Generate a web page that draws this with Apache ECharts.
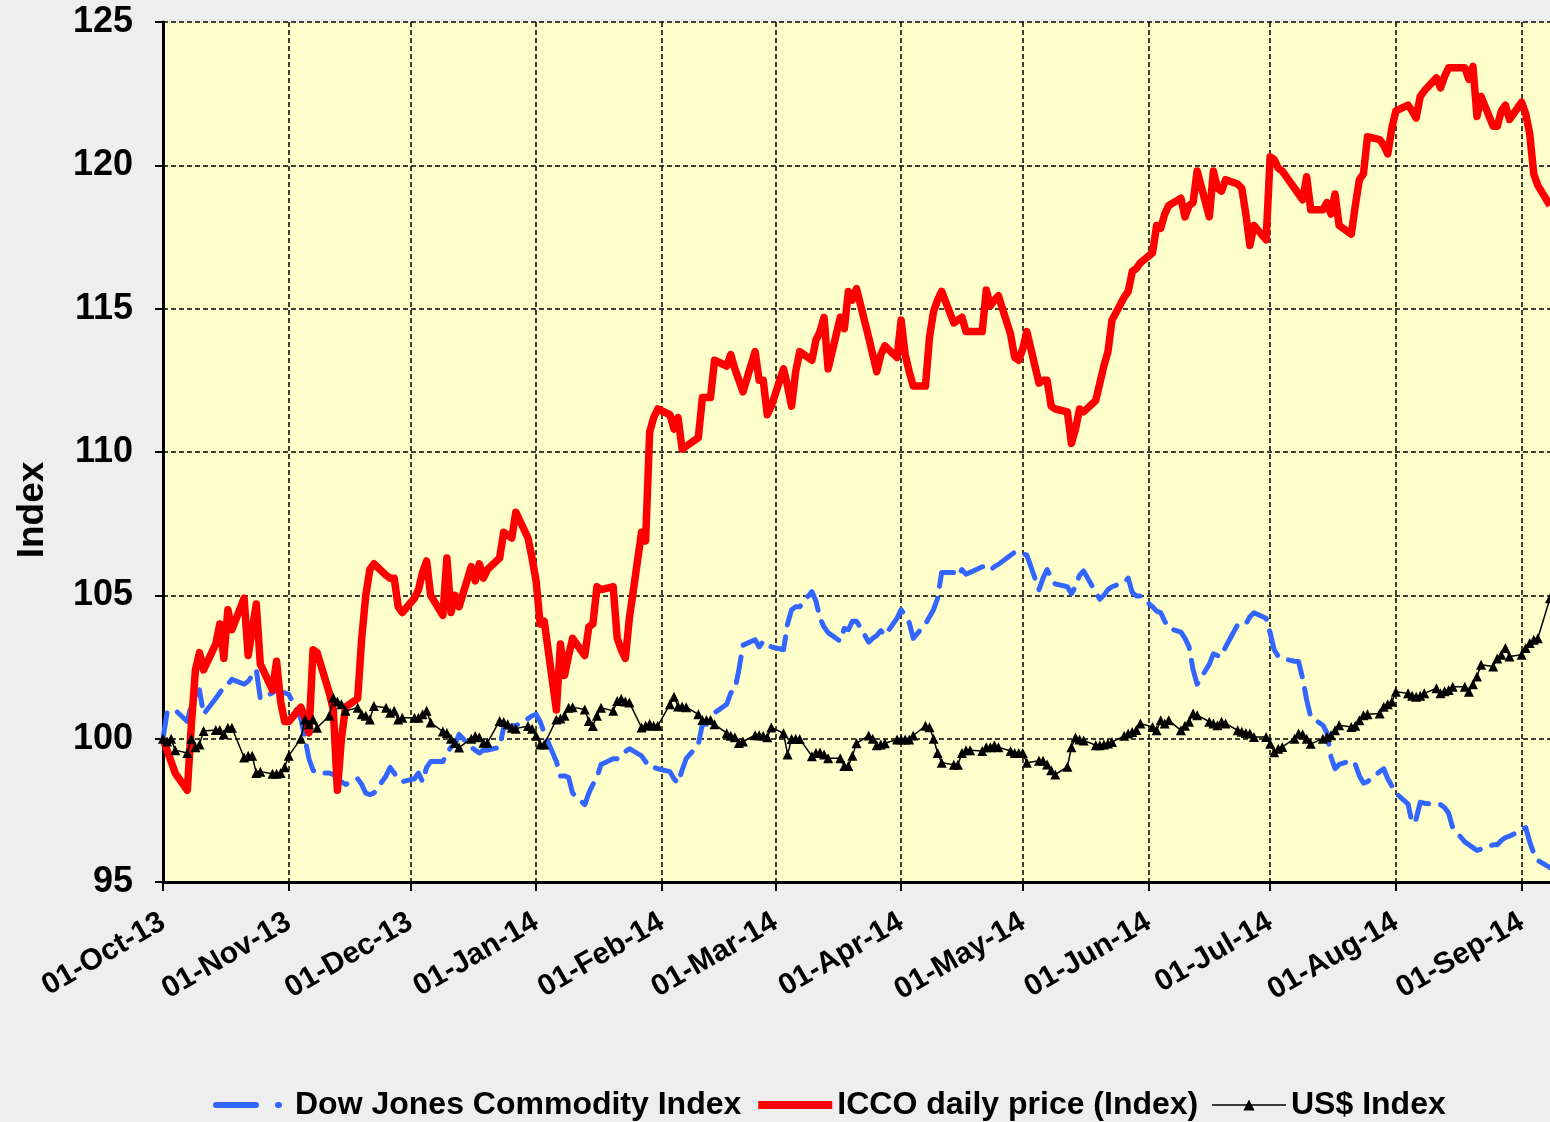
<!DOCTYPE html>
<html>
<head>
<meta charset="utf-8">
<title>ICCO daily price vs Dow Jones Commodity Index and US$ Index</title>
<script src="https://cdn.jsdelivr.net/npm/echarts@6/dist/echarts.min.js"></script>
<style>
  html, body { margin: 0; padding: 0; background: #eeeeee; }
  #chart { width: 1550px; height: 1122px; }
</style>
</head>
<body>
<div id="chart"></div>
<script>
// tick labels on the date axis (first day of each month)
const monthLabels = ['01-Oct-13', '01-Nov-13', '01-Dec-13', '01-Jan-14', '01-Feb-14', '01-Mar-14',
  '01-Apr-14', '01-May-14', '01-Jun-14', '01-Jul-14', '01-Aug-14', '01-Sep-14'];

// one value per trading day (Mon-Fri), 01-Oct-13 .. 08-Sep-14
const dowJones = [
  // Oct
  100.0, 100.9, 100.9, 101.0, 100.6, 101.2, 101.5, 101.7, 100.85, 101.4, 101.6, 101.8, 101.9, 102.07, 101.9, 102.0, 102.2, 102.4, 101.4, 101.6, 101.7, 101.6, 101.6,
  // Nov
  101.55, 100.7, 100.0, 99.3, 98.9, 98.8, 98.8, 98.75, 98.6, 98.5, 98.4, 98.6, 98.4, 98.1, 98.05, 98.1, 98.7, 99.0, 98.8, 98.6, 98.5,
  // Dec
  98.6, 98.8, 98.5, 99.0, 99.2, 99.2, 99.5, 99.7, 99.8, 100.15, 99.7, 99.6, 99.5, 99.6, 99.6, 99.7, 100.4, 100.4, 100.45, 100.45, 100.7, 100.8,
  // Jan
  100.85, 100.6, 100.2, 99.2, 98.7, 98.7, 98.65, 98.1, 97.7, 98.1, 98.4, 98.65, 99.1, 99.3, 99.3, 99.4, 99.55, 99.65, 99.4, 99.2, 99.0, 99.0, 98.95,
  // Feb
  98.85, 98.6, 98.45, 98.9, 99.3, 99.8, 100.5, 100.5, 100.7, 100.9, 101.2, 101.6, 101.7, 102.4, 103.26, 103.45, 103.2, 103.4, 103.3, 103.2,
  // Mar
  103.1, 104.0, 104.5, 104.6, 104.6, 105.13, 104.8, 104.2, 103.9, 103.7, 103.4, 103.85, 103.8, 104.1, 104.1, 103.37, 103.5, 103.6, 103.77, 103.6, 104.2,
  // Apr
  104.5, 104.3, 104.05, 103.5, 104.0, 104.25, 104.5, 104.9, 105.8, 105.8, 105.67, 105.9, 105.74, 105.8, 106.0, 106.0, 105.88, 106.0, 106.08, 106.4, 106.5, 106.45,
  // May
  106.45, 106.4, 105.2, 105.6, 105.9, 105.6, 105.4, 105.3, 105.06, 105.3, 105.7, 105.85, 105.1, 104.86, 105.0, 105.2, 105.3, 105.45, 105.6, 105.1, 104.98, 104.98,
  // Jun
  104.6, 104.45, 104.4, 104.1, 103.85, 103.72, 103.5, 103.2, 102.4, 101.9, 102.6, 102.96, 102.9, 102.87, 103.2, 103.98, 104.0, 104.0, 104.25, 104.39, 104.2,
  // Jul
  103.69, 103.1, 102.87, 102.8, 102.7, 102.69, 102.11, 101.35, 100.76, 100.47, 100.2, 99.36, 98.95, 99.1, 99.24, 99.1, 98.7, 98.45, 98.5, 98.85, 98.95, 98.6, 98.35,
  // Aug
  98.1, 97.72, 97.05, 97.2, 97.78, 97.75, 97.7, 97.7, 97.6, 97.4, 96.9, 96.4, 96.3, 96.2, 96.1, 96.15, 96.3, 96.3, 96.45, 96.55, 96.6,
  // Sep
  96.8, 96.9, 96.4, 96.0, 95.75, 95.5
];

const iccoPrice = [
  // Oct
  100.0, 99.6, 99.2, 98.8, 98.2, 100.5, 102.4, 103.0, 102.4, 103.3, 104.0, 102.8, 104.5, 103.8, 104.9, 102.9, 103.8, 104.7, 102.6, 101.7, 102.7, 101.3, 100.6,
  // Nov
  100.6, 101.1, 100.7, 100.2, 103.1, 103.0, 101.6, 101.0, 98.2, 100.0, 101.1, 101.4, 103.5, 105.0, 105.9, 106.1, 105.7, 105.6, 105.6, 104.6, 104.4,
  // Dec
  104.9, 105.2, 105.8, 106.2, 105.0, 104.3, 106.3, 104.4, 105.0, 104.6, 106.0, 105.5, 106.1, 105.6, 105.9, 106.3, 107.2, 107.1, 107.0, 107.9, 107.0, 106.3,
  // Jan
  105.5, 104.0, 104.1, 101.0, 103.3, 102.2, 102.9, 103.5, 102.9, 103.9, 104.0, 105.3, 105.2, 105.3, 103.5, 103.1, 102.8, 104.2, 107.2, 106.9, 110.7, 111.2, 111.5,
  // Feb
  111.3, 110.8, 111.2, 110.1, 110.2, 110.5, 111.9, 111.9, 111.9, 113.2, 113.0, 113.4, 112.9, 112.5, 112.1, 113.5, 112.5, 112.5, 111.3, 111.6,
  // Mar
  112.9, 112.3, 111.6, 112.8, 113.5, 113.2, 113.9, 114.2, 114.7, 112.9, 114.7, 114.3, 115.6, 115.3, 115.7, 114.0, 113.4, 112.8, 113.4, 113.7, 113.3,
  // Apr
  114.6, 113.4, 112.8, 112.3, 112.3, 114.0, 114.9, 115.3, 115.6, 114.5, 114.6, 114.7, 114.2, 114.2, 114.2, 115.65, 115.1, 115.3, 115.45, 114.1, 113.3, 113.2,
  // May
  113.6, 114.2, 112.4, 112.5, 112.5, 111.6, 111.5, 111.4, 110.3, 110.8, 111.5, 111.4, 111.8, 112.4, 113.0, 113.5, 114.6, 115.4, 115.6, 116.3, 116.4, 116.6,
  // Jun
  116.95, 117.9, 117.8, 118.3, 118.6, 118.85, 118.2, 118.6, 118.7, 119.8, 118.2, 119.8, 119.2, 119.1, 119.5, 119.35, 119.2, 118.3, 117.2, 117.9, 117.4,
  // Jul
  120.3, 120.2, 119.9, 119.8, 119.2, 119.0, 118.8, 119.6, 118.45, 118.45, 118.7, 118.3, 119.0, 117.9, 117.6, 118.6, 119.5, 119.7, 121.0, 120.9, 120.7, 120.4, 121.3,
  // Aug
  121.9, 122.1, 121.9, 121.65, 122.4, 122.6, 123.05, 122.7, 123.1, 123.4, 123.4, 123.4, 123.0, 123.45, 121.7, 122.4, 121.36, 121.36, 121.9, 122.1, 121.6,
  // Sep
  122.2, 121.8, 121.1, 119.7, 119.3, 118.6
];

const usdIndex = [
  // Oct
  100.0, 99.9, 100.0, 99.6, 99.5, 100.0, 99.7, 99.8, 100.27, 100.3, 100.3, 100.15, 100.38, 100.38, 99.34, 99.4, 99.4, 98.8, 98.85, 98.78, 98.78, 98.8, 99.0,
  // Nov
  99.4, 100.0, 100.67, 100.5, 100.67, 100.38, 100.8, 101.43, 101.3, 101.2, 100.97, 101.08, 100.85, 100.8, 100.67, 101.14, 101.08, 100.9, 100.97, 100.67, 100.73,
  // Dec
  100.73, 100.73, 100.85, 100.97, 100.56, 100.25, 100.2, 100.0, 99.85, 99.69, 100.0, 100.09, 100.05, 99.86, 99.86, 100.62, 100.58, 100.5, 100.38, 100.35, 100.44, 100.35,
  // Jan
  100.1, 99.8, 99.8, 100.67, 100.7, 100.8, 101.08, 101.1, 101.02, 100.62, 100.44, 100.8, 101.08, 100.97, 101.31, 101.39, 101.3, 101.26, 100.39, 100.45, 100.52, 100.45, 100.45,
  // Feb
  101.2, 101.46, 101.12, 101.12, 101.1, 100.85, 100.65, 100.65, 100.65, 100.5, 100.19, 100.1, 100.05, 99.85, 99.9, 100.12, 100.12, 100.1, 100.05, 100.39,
  // Mar
  100.19, 99.45, 99.99, 100.0, 99.99, 99.39, 99.5, 99.52, 99.45, 99.32, 99.32, 99.05, 99.05, 99.4, 99.84, 100.11, 100.0, 99.77, 99.8, 99.84, 99.97,
  // Apr
  99.97, 99.97, 99.97, 100.11, 100.45, 100.4, 100.0, 99.5, 99.16, 99.09, 99.09, 99.5, 99.6, 99.6, 99.57, 99.7, 99.7, 99.77, 99.7, 99.57, 99.5, 99.5,
  // May
  99.5, 99.16, 99.23, 99.23, 99.1, 98.9, 98.75, 99.02, 99.7, 100.04, 99.97, 99.94, 99.77, 99.77, 99.8, 99.83, 99.88, 100.1, 100.18, 100.23, 100.3, 100.53,
  // Jun
  100.41, 100.29, 100.64, 100.53, 100.64, 100.29, 100.45, 100.59, 100.88, 100.82, 100.59, 100.53, 100.47, 100.59, 100.53, 100.29, 100.24, 100.2, 100.18, 100.06, 100.06,
  // Jul
  99.82, 99.53, 99.65, 99.71, 100.0, 100.18, 100.15, 100.0, 99.82, 100.0, 100.06, 100.12, 100.29, 100.47, 100.41, 100.45, 100.64, 100.82, 100.85, 100.88, 101.11, 101.2, 101.29,
  // Aug
  101.64, 101.58, 101.5, 101.46, 101.5, 101.58, 101.76, 101.58, 101.65, 101.7, 101.81, 101.81, 101.64, 101.9, 102.17, 102.58, 102.52, 102.8, 102.93, 103.16, 102.87,
  // Sep
  102.93, 103.16, 103.34, 103.45, 103.5, 104.9
];

const FONT = 'Arial, "Liberation Sans", sans-serif';
const MONTHS = ['Jan', 'Feb', 'Mar', 'Apr', 'May', 'Jun', 'Jul', 'Aug', 'Sep', 'Oct', 'Nov', 'Dec'];

// calendar days on the axis, and which of them are trading days
const calendar = [];
const tradingIdx = [];
for (let d = new Date(2013, 9, 1); d <= new Date(2014, 8, 8); d.setDate(d.getDate() + 1)) {
  const label = String(d.getDate()).padStart(2, '0') + '-' + MONTHS[d.getMonth()] + '-' + String(d.getFullYear()).slice(2);
  if (d.getDay() !== 0 && d.getDay() !== 6) tradingIdx.push(calendar.length);
  calendar.push(label);
}

// spread a trading-day series over the calendar axis (weekends left empty)
function onCalendar(values) {
  const out = calendar.map(() => null);
  tradingIdx.forEach((ci, k) => { out[ci] = values[k] === undefined ? null : values[k]; });
  return out;
}

const isMonthStart = (index, value) => monthLabels.indexOf(value) !== -1;

const chart = echarts.init(document.getElementById('chart'));
chart.setOption({
  backgroundColor: '#eeeeee',
  animation: false,
  grid: {
    left: 163, top: 22, right: -3, bottom: 240,
    show: true, backgroundColor: '#ffffcc', borderWidth: 0
  },
  legend: {
    left: 208, top: 1082,
    itemWidth: 74, itemHeight: 14, itemGap: 13,
    textStyle: { fontFamily: FONT, fontSize: 32, fontWeight: 'bold', color: '#000', lineHeight: 36 },
    data: [
      {
        name: 'Dow Jones Commodity Index',
        itemStyle: { opacity: 0 },
        lineStyle: { type: [40, 22, 1, 30], width: 6, cap: 'round' }
      },
      {
        name: 'ICCO daily price (Index)',
        itemStyle: { opacity: 0 },
        lineStyle: { width: 8 }
      },
      { name: 'US$ Index', lineStyle: { width: 1.5 } }
    ]
  },
  xAxis: {
    type: 'category',
    data: calendar,
    boundaryGap: false,
    axisLine: { lineStyle: { color: '#000', width: 3 } },
    axisTick: { interval: isMonthStart, length: 9, lineStyle: { color: '#000', width: 2 } },
    axisLabel: {
      interval: isMonthStart, rotate: 30, margin: 38,
      fontFamily: FONT, fontSize: 30, fontWeight: 'bold', color: '#000'
    },
    splitLine: { show: true, interval: isMonthStart, lineStyle: { color: '#000', width: 1.5, type: [5, 3] } }
  },
  yAxis: {
    type: 'value',
    min: 95, max: 125, interval: 5,
    name: 'Index',
    nameLocation: 'middle',
    nameGap: 112,
    nameTextStyle: { fontFamily: FONT, fontSize: 37, fontWeight: 'bold', color: '#000', padding: [0, 116, 0, 0] },
    axisLine: { show: true, lineStyle: { color: '#000', width: 3 } },
    axisTick: { show: true, length: 8, lineStyle: { color: '#000', width: 2 } },
    axisLabel: { margin: 30, fontFamily: FONT, fontSize: 36, fontWeight: 'bold', color: '#000' },
    splitLine: { show: true, lineStyle: { color: '#000', width: 1.5, type: [5, 3] } }
  },
  series: [
    {
      name: 'Dow Jones Commodity Index',
      type: 'line',
      data: onCalendar(dowJones),
      connectNulls: true,
      showSymbol: false,
      symbol: 'none',
      color: '#3366ff',
      lineStyle: { color: '#3366ff', width: 5, type: [26, 12], cap: 'round', join: 'round' }
    },
    {
      name: 'ICCO daily price (Index)',
      type: 'line',
      data: onCalendar(iccoPrice),
      connectNulls: true,
      showSymbol: false,
      symbol: 'none',
      color: '#ff0000',
      lineStyle: { color: '#ff0000', width: 7.5, join: 'round' }
    },
    {
      name: 'US$ Index',
      type: 'line',
      data: onCalendar(usdIndex),
      connectNulls: true,
      symbol: 'triangle',
      symbolSize: 10,
      showAllSymbol: true,
      color: '#000',
      itemStyle: { color: '#000' },
      lineStyle: { color: '#000', width: 1.5 }
    }
  ]
});
</script>
</body>
</html>
